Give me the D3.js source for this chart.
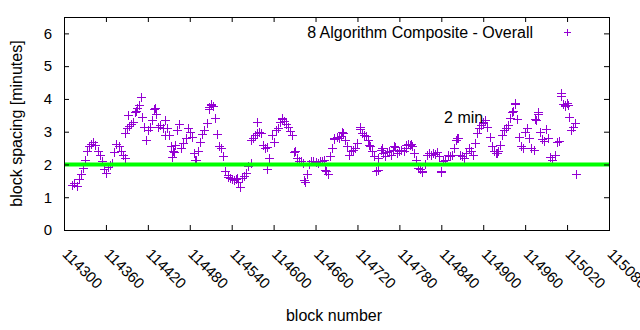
<!DOCTYPE html>
<html>
<head>
<meta charset="utf-8">
<script src="https://cdn.jsdelivr.net/npm/d3@7"></script>
<style>
html,body{margin:0;padding:0;background:#fff;}
text{font-family:"Liberation Sans",Arial,sans-serif;fill:#000;}
</style>
</head>
<body>
<svg id="chart" width="640" height="330"></svg>
<script>
const seriesName = "8 Algorithm Composite - Overall";
const xTicks = [114300,114360,114420,114480,114540,114600,114660,114720,114780,114840,114900,114960,115020,115080];
const yTicks = [0,1,2,3,4,5,6];
const refValue = 2;
const refLabel = "2 min";
const refLabelPos = [114844, 3.45];

const blocks = [
114312,114315,114318,114321,114324,114327,114330,114333,114336,114339,
114342,114345,114348,114351,114354,114357,114360,114363,114366,114369,
114372,114375,114378,114381,114384,114387,114390,114393,114396,114399,
114402,114405,114408,114411,114414,114417,114420,114423,114426,114429,
114432,114435,114438,114441,114444,114447,114450,114453,114456,114459,
114462,114465,114468,114471,114474,114477,114480,114483,114486,114489,
114492,114495,114498,114501,114504,114507,114510,114513,114516,114519,
114522,114525,114528,114531,114534,114537,114540,114543,114546,114549,
114552,114555,114558,114561,114564,114567,114570,114573,114576,114579,
114582,114585,114588,114591,114594,114597,114600,114603,114606,114609,
114612,114615,114618,114621,114624,114627,114630,114633,114636,114639,
114642,114645,114648,114651,114654,114657,114660,114663,114666,114669,
114672,114675,114678,114681,114684,114687,114690,114693,114696,114699,
114702,114705,114708,114711,114714,114717,114720,114723,114726,114729,
114732,114735,114738,114741,114744,114747,114750,114753,114756,114759,
114762,114765,114768,114771,114774,114777,114780,114783,114786,114789,
114792,114795,114798,114801,114804,114807,114810,114813,114816,114819,
114822,114825,114828,114831,114834,114837,114840,114843,114846,114849,
114852,114855,114858,114861,114864,114867,114870,114873,114876,114879,
114882,114885,114888,114891,114894,114897,114900,114903,114906,114909,
114912,114915,114918,114921,114924,114927,114930,114933,114936,114939,
114942,114945,114948,114951,114954,114957,114960,114963,114966,114969,
114972,114975,114978,114981,114984,114987,114990,114993,114996,114999,
115002,115005,115008,115011,115014,115017,115020,115023,115026,115029,
115032,
114388,114410,114391,114403,114430,114444,114454,114457,114487,114511,
114508,114534,114547,114568,114576,114591,114612,114629,114643,114673,
114686,114698,114723,114736,114749,114755,114773,114790,114797,114813,
114840,114863,114873,114899,114903,114920,114941,114946,114974,114978,
115011,115017,115021,115033
];
const spacing = [
1.38,1.42,1.35,1.55,1.72,1.90,2.15,2.40,2.55,2.62,
2.68,2.58,2.42,2.30,2.10,1.85,1.75,1.92,1.98,2.05,
2.38,2.62,2.55,2.42,2.30,2.20,3.10,3.18,3.22,3.30,
3.60,3.72,3.82,3.45,3.15,2.75,3.05,3.15,3.35,3.68,
3.55,3.15,3.20,3.10,2.90,3.10,2.90,2.55,2.42,2.60,
3.05,3.22,2.50,2.65,2.80,3.10,2.98,2.85,2.35,2.15,
2.40,2.68,2.92,3.05,3.28,3.70,3.85,3.78,3.42,2.92,
2.55,2.50,2.25,1.80,1.68,1.60,1.55,1.52,1.55,1.48,
1.30,1.60,1.65,1.75,1.95,2.05,2.80,2.90,2.95,2.98,
2.95,2.60,2.50,2.52,2.20,2.90,2.70,3.05,3.12,3.30,
3.42,3.32,3.22,3.15,3.02,2.90,2.40,2.20,2.10,2.12,
2.05,1.45,1.72,2.00,2.12,2.10,2.08,2.05,2.12,2.10,
2.15,1.80,1.70,2.25,2.50,2.78,2.85,2.82,2.88,2.95,
2.75,2.55,2.30,2.40,2.45,2.50,2.65,3.08,2.95,2.90,
2.88,2.75,2.55,2.42,2.25,1.80,2.20,2.45,2.35,2.25,
2.38,2.42,2.30,2.45,2.52,2.35,2.40,2.45,2.42,2.50,
2.62,2.58,2.55,2.35,2.15,1.90,1.85,1.80,2.00,2.28,
2.35,2.30,2.35,2.32,2.38,2.25,1.80,2.12,2.15,2.28,
2.25,2.30,2.50,2.75,2.80,2.30,2.25,2.20,2.35,2.50,
2.40,2.30,2.65,2.95,3.10,3.20,3.30,3.35,3.15,2.85,
2.55,2.40,2.35,2.40,2.60,2.90,3.05,3.12,3.20,3.42,
3.62,3.85,3.40,2.85,2.55,2.50,2.98,3.12,2.80,2.50,
2.45,3.35,3.55,3.00,2.78,2.72,3.08,2.80,2.22,2.15,
2.30,2.68,2.72,4.10,3.85,3.82,3.88,3.45,3.05,3.15,
3.28,
2.95,4.05,3.50,3.62,3.72,3.35,2.22,2.38,2.15,3.80,
3.75,1.62,1.58,2.75,3.30,1.85,3.40,2.38,1.52,1.83,
2.80,3.00,3.15,2.60,1.83,2.50,2.55,2.60,2.62,1.77,
1.77,2.80,2.20,3.28,3.35,2.35,3.60,3.87,3.40,3.60,
4.18,3.78,3.80,1.72
];

const W = 640, H = 330;
const m = {left:64, right:609, top:17, bottom:230};
const svg = d3.select("#chart");
const x = d3.scaleLinear().domain([114300,115080]).range([m.left,m.right]);
const y = d3.scaleLinear().domain([0,6.5]).range([m.bottom,m.top]);
const purple = "#9400d3";
const tick = 5;

// points
const pts = blocks.map((b,i)=>({b, v:spacing[i]}));
const cross = "M-4.5,0H4.5M0,-4.5V4.5";
svg.append("g").selectAll("path").data(pts).join("path")
  .attr("transform",d=>`translate(${Math.round(x(d.b))+0.5},${Math.round(y(d.v))+0.5})`)
  .attr("d",cross).attr("stroke",purple).attr("stroke-width",1).attr("fill","none");

// reference line (drawn over points)
svg.append("line")
  .attr("x1",x(114300)).attr("x2",x(115080))
  .attr("y1",y(refValue)).attr("y2",y(refValue))
  .attr("stroke","#00ff00").attr("stroke-width",4);

// axes
const fs = 15, lfs = 16;
const gx = svg.append("g").attr("transform",`translate(0,${m.bottom})`)
  .call(d3.axisBottom(x).tickValues(xTicks).tickSize(-tick).tickFormat(d3.format("d")));
gx.select(".domain").remove();
gx.selectAll("text").attr("font-size",fs).attr("text-anchor","start")
  .attr("y",0).attr("dy",0)
  .attr("transform","translate(-3,25) rotate(45)");
const gxt = svg.append("g").attr("transform",`translate(0,${m.top})`)
  .call(d3.axisTop(x).tickValues(xTicks).tickSize(-tick).tickFormat(""));
gxt.select(".domain").remove();

const gy = svg.append("g").attr("transform",`translate(${m.left},0)`)
  .call(d3.axisLeft(y).tickValues(yTicks).tickSize(-tick).tickPadding(12).tickFormat(d3.format("d")));
gy.select(".domain").remove();
gy.selectAll("text").attr("font-size",fs);
const gyr = svg.append("g").attr("transform",`translate(${m.right},0)`)
  .call(d3.axisRight(y).tickValues(yTicks).tickSize(-tick).tickFormat(""));
gyr.select(".domain").remove();
svg.selectAll(".tick line").attr("stroke","#000");

// frame
svg.append("rect").attr("x",m.left+0.5).attr("y",m.top+0.5)
  .attr("width",m.right-m.left).attr("height",m.bottom-m.top)
  .attr("fill","none").attr("stroke","#000").attr("stroke-width",1);

// labels
svg.append("text").attr("x",334).attr("y",321)
  .attr("text-anchor","middle").attr("font-size",lfs).text("block number");
svg.append("text").attr("transform",`translate(22,${(m.top+m.bottom)/2}) rotate(-90)`)
  .attr("text-anchor","middle").attr("font-size",lfs).text("block spacing [minutes]");
svg.append("text").attr("x",x(refLabelPos[0])).attr("y",y(refLabelPos[1])).attr("dy","0.35em")
  .attr("font-size",lfs).text(refLabel);

// legend
svg.append("text").attr("x",533).attr("y",32).attr("dy","0.35em")
  .attr("text-anchor","end").attr("font-size",lfs).text(seriesName);
svg.append("path").attr("transform","translate(567.5,32.5)").attr("d","M-3.5,0H3.5M0,-3.5V3.5")
  .attr("stroke",purple).attr("stroke-width",1);
</script>
</body>
</html>
